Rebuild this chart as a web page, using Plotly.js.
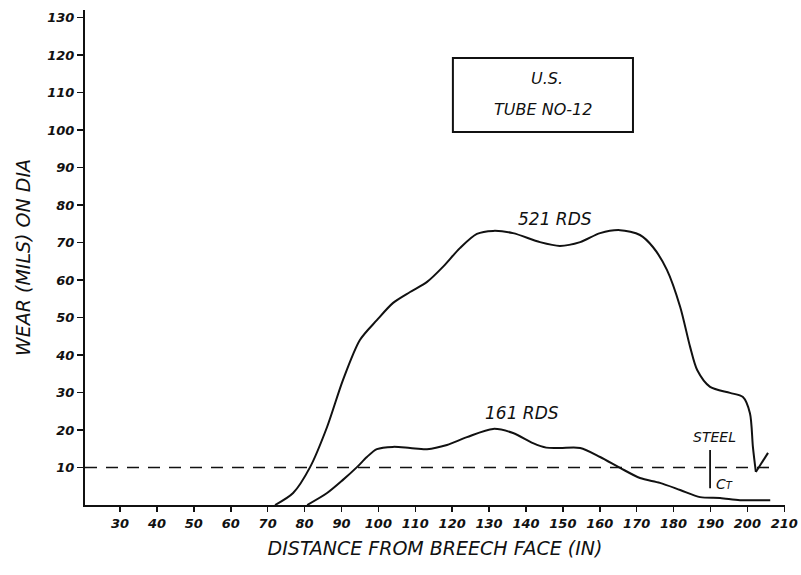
<!DOCTYPE html>
<html>
<head>
<meta charset="utf-8">
<script src="https://cdn.plot.ly/plotly-3.0.1.min.js"></script>
<style>html,body{margin:0;padding:0;background:#fff;}#chart{width:801px;height:575px;}</style>
</head>
<body>
<div id="chart"></div>
<script>
// Distance from breech face (in) and wear (mils on dia)
const rds521X = [72, 76.9, 81.5, 86.1, 90.4, 95, 99.6, 104, 108.6, 113.2, 117.5, 122.1, 126.7, 131.1, 136.5, 143.8, 149.2, 154.7, 160.1, 165.5, 170.9, 174.4, 178.2, 181.8, 184.5, 186.4, 189.9, 195.3, 198.8, 200.7, 201.5, 202.3];
const rds521Y = [0, 3.2, 10.1, 20.8, 33.3, 44, 49.3, 53.9, 56.8, 59.5, 63.5, 68.5, 72.3, 73.1, 72.5, 70.1, 69.1, 70.1, 72.5, 73.3, 72, 68.8, 62.7, 52.8, 42.1, 36, 31.5, 29.9, 28.8, 24.5, 15.5, 8.8];
const checkX = [202.3, 205.6];
const checkY = [8.8, 13.9];
const rds161X = [80.7, 86.1, 90.4, 94.2, 96.9, 99.6, 104, 108.6, 113.2, 118.6, 124, 131.1, 136.5, 141.9, 145.5, 149.2, 154.7, 160.1, 165.5, 170.9, 176.3, 181.8, 187.2, 192.6, 198, 206.2];
const rds161Y = [0, 3.2, 6.7, 10.1, 12.8, 14.9, 15.5, 15.2, 14.9, 16, 18.1, 20.3, 19.2, 16.5, 15.3, 15.2, 15.2, 12.8, 9.9, 7.2, 5.9, 4, 2.1, 1.9, 1.3, 1.3];
const limitX = [20.5, 208];
const limitY = [10, 10];
const xTicks = [30, 40, 50, 60, 70, 80, 90, 100, 110, 120, 130, 140, 150, 160, 170, 180, 190, 200, 210];
const yTicks = [10, 20, 30, 40, 50, 60, 70, 80, 90, 100, 110, 120, 130];
const labels = {r521: "521 RDS", r161: "161 RDS", steel: "STEEL", ct: "C<span style='font-size:10px'>T</span>", box1: "U.S.", box2: "TUBE NO-12"};

const ink = "#111111";
const fnt = "DejaVu Sans, sans-serif";

const traces = [
  {x: rds521X, y: rds521Y, mode: "lines", line: {color: ink, width: 2, shape: "spline", smoothing: 0.8}, hoverinfo: "skip"},
  {x: checkX, y: checkY, mode: "lines", line: {color: ink, width: 2}, hoverinfo: "skip"},
  {x: rds161X, y: rds161Y, mode: "lines", line: {color: ink, width: 2, shape: "spline", smoothing: 0.8}, hoverinfo: "skip"},
  {x: limitX, y: limitY, mode: "lines", line: {color: ink, width: 1.6, dash: "12px,9px"}, hoverinfo: "skip"}
];

const tf = {family: fnt, size: 13, color: ink, style: "italic", weight: 600};

const layout = {
  width: 801, height: 575,
  margin: {l: 85, r: 16, t: 10, b: 70},
  paper_bgcolor: "#ffffff", plot_bgcolor: "#ffffff",
  showlegend: false,
  font: {family: fnt, color: ink},
  xaxis: {
    range: [20.5, 210.2], tickvals: xTicks, ticktext: xTicks.map(String),
    showgrid: false, zeroline: false, showline: true, linecolor: ink, linewidth: 2,
    ticks: "outside", ticklen: 5, tickwidth: 1.5, tickcolor: ink,
    tickfont: tf,
    title: {text: "DISTANCE FROM BREECH FACE (IN)", font: {family: fnt, size: 19, color: ink, style: "italic"}, standoff: 12}
  },
  yaxis: {
    range: [0, 132], tickvals: yTicks, ticktext: yTicks.map(String),
    showgrid: false, zeroline: false, showline: true, linecolor: ink, linewidth: 2,
    ticks: "outside", ticklen: 6, tickwidth: 1.5, tickcolor: ink,
    tickfont: tf,
    title: {text: "WEAR (MILS) ON DIA", font: {family: fnt, size: 19, color: ink, style: "italic"}, standoff: 12}
  },
  shapes: [
    {type: "rect", xref: "x", yref: "y", x0: 120.2, x1: 169, y0: 99.5, y1: 119.2, line: {color: ink, width: 2}},
    {type: "line", xref: "x", yref: "y", x0: 189.9, x1: 189.9, y0: 4.5, y1: 14.7, line: {color: ink, width: 1.8}}
  ],
  annotations: [
    {x: 147.9, y: 76.3, xref: "x", yref: "y", text: labels.r521, showarrow: false, font: {family: fnt, size: 17, color: ink, style: "italic"}},
    {x: 139, y: 24.5, xref: "x", yref: "y", text: labels.r161, showarrow: false, font: {family: fnt, size: 17, color: ink, style: "italic"}},
    {x: 191.2, y: 18.2, xref: "x", yref: "y", text: labels.steel, showarrow: false, font: {family: fnt, size: 14, color: ink, style: "italic"}},
    {x: 193.8, y: 5.5, xref: "x", yref: "y", text: labels.ct, showarrow: false, font: {family: fnt, size: 14, color: ink, style: "italic"}},
    {x: 145.8, y: 113.7, xref: "x", yref: "y", text: labels.box1, showarrow: false, font: {family: fnt, size: 16, color: ink, style: "italic"}},
    {x: 144.7, y: 105.6, xref: "x", yref: "y", text: labels.box2, showarrow: false, font: {family: fnt, size: 16, color: ink, style: "italic"}}
  ]
};

Plotly.newPlot("chart", traces, layout, {staticPlot: true, displayModeBar: false});
</script>
</body>
</html>
